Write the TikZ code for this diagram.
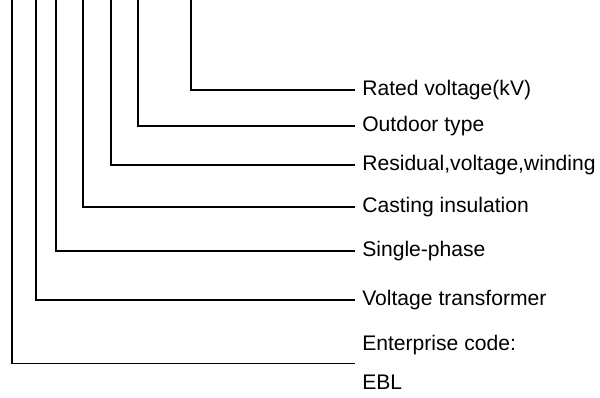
\documentclass[tikz,border=0pt]{standalone}
\usepackage{fontspec}
\setmainfont{Liberation Sans}
\usetikzlibrary{calc,positioning}

\begin{document}
\begin{tikzpicture}[x=0.025cm,y=-0.025cm]
    \tikzset{LabelStyle/.style = {anchor=west,
        inner xsep = 5pt,
        inner ysep = 1pt,
        font  = \fontsize{15}{18}\selectfont},
      EdgeStyle/.style = {line width=1.4pt}}
    \useasboundingbox (0,0) rectangle (600,397);
    % tops of the vertical lines
    \coordinate (T1) at (191,0);
    \coordinate (T2) at (138,0);
    \coordinate (T3) at (111,0);
    \coordinate (T4) at (83,0);
    \coordinate (T5) at (56,0);
    \coordinate (T6) at (36,0);
    \coordinate (T7) at (12,0);
    % labels
    \node[LabelStyle] (Rated)    at (355,90)  {Rated voltage(kV)};
    \node[LabelStyle] (Outdoor)  at (355,126) {Outdoor type};
    \node[LabelStyle] (Residual) at (355,165) {Residual,voltage,winding};
    \node[LabelStyle] (Casting)  at (355,207) {Casting insulation};
    \node[LabelStyle] (Single)   at (355,251) {Single-phase};
    \node[LabelStyle] (Trans)    at (355,300) {Voltage transformer};
    \node[LabelStyle] (Code)     at (355,345) {Enterprise code:};
    \node[LabelStyle] (EBL)      at (355,382) {EBL};
    \coordinate (CodeEnd) at ($(Code.west)!0.5!(EBL.west)$);
    % connectors
    \draw[EdgeStyle] (T1) |- (Rated.west);
    \draw[EdgeStyle] (T2) |- (Outdoor.west);
    \draw[EdgeStyle] (T3) |- (Residual.west);
    \draw[EdgeStyle] (T4) |- (Casting.west);
    \draw[EdgeStyle] (T5) |- (Single.west);
    \draw[EdgeStyle] (T6) |- (Trans.west);
    \draw[EdgeStyle] (T7) |- (CodeEnd);
  \end{tikzpicture}
\end{document}
